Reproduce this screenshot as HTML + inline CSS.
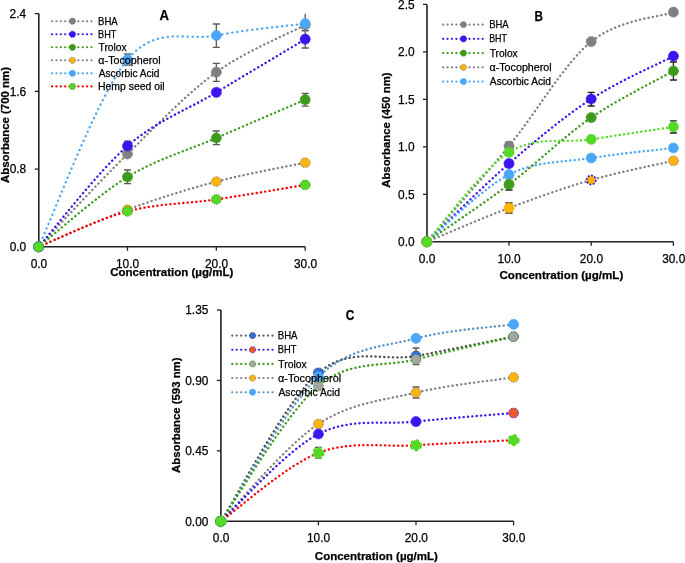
<!DOCTYPE html>
<html><head><meta charset="utf-8"><style>
html,body{margin:0;padding:0;background:#fff;width:685px;height:563px;overflow:hidden}
svg{display:block;font-family:"Liberation Sans",sans-serif;will-change:transform}
text{fill:#000;stroke:#000;stroke-width:0.25px}
.s{stroke-linecap:round;fill:none}
</style></head><body>
<svg width="685" height="563" viewBox="0 0 685 563">
<rect width="685" height="563" fill="#fff"/>
<path d="M38.80,13.60 V246.80 M38.80,246.80 H305.20" stroke="#222" stroke-width="1.6" fill="none"/>
<path d="M34.80,246.80 H38.80" stroke="#222" stroke-width="1.3"/>
<text x="26.18" y="251.00" font-size="11.90" text-anchor="end">0.0</text>
<path d="M34.80,169.07 H38.80" stroke="#222" stroke-width="1.3"/>
<text x="26.24" y="173.27" font-size="11.90" text-anchor="end">0.8</text>
<path d="M34.80,91.33 H38.80" stroke="#222" stroke-width="1.3"/>
<text x="26.24" y="95.53" font-size="11.90" text-anchor="end">1.6</text>
<path d="M34.80,13.60 H38.80" stroke="#222" stroke-width="1.3"/>
<text x="26.06" y="17.80" font-size="11.90" text-anchor="end">2.4</text>
<text x="38.90" y="268.00" font-size="11.90" text-anchor="middle">0.0</text>
<path d="M127.47,246.80 V250.80" stroke="#222" stroke-width="1.3"/>
<text x="127.57" y="268.00" font-size="11.90" text-anchor="middle">10.0</text>
<path d="M216.33,246.80 V250.80" stroke="#222" stroke-width="1.3"/>
<text x="216.58" y="268.00" font-size="11.90" text-anchor="middle">20.0</text>
<path d="M305.20,246.80 V250.80" stroke="#222" stroke-width="1.3"/>
<text x="305.51" y="268.00" font-size="11.90" text-anchor="middle">30.0</text>
<path class="s" d="M38.60,246.80 C53.41,231.33 97.84,183.10 127.47,154.00 C157.09,124.90 186.71,93.70 216.33,72.20 C245.96,50.70 290.39,32.87 305.20,25.00" stroke="#808080" stroke-width="2.35" stroke-dasharray="0.15 4.2"/>
<path class="s" d="M38.60,246.80 C53.41,230.00 97.84,171.73 127.47,146.00 C157.09,120.27 186.71,110.20 216.33,92.40 C245.96,74.60 290.39,48.07 305.20,39.20" stroke="#3c14ec" stroke-width="2.35" stroke-dasharray="0.15 4.2"/>
<path class="s" d="M38.60,246.80 C53.41,235.17 97.84,195.13 127.47,177.00 C157.09,158.87 186.71,150.88 216.33,138.00 C245.96,125.12 290.39,106.08 305.20,99.70" stroke="#3d9a1b" stroke-width="2.35" stroke-dasharray="0.15 4.2"/>
<path class="s" d="M38.60,246.80 C53.41,240.60 97.84,220.47 127.47,209.60 C157.09,198.73 186.71,189.42 216.33,181.60 C245.96,173.78 290.39,165.85 305.20,162.70" stroke="#808080" stroke-width="2.35" stroke-dasharray="0.15 4.2"/>
<path class="s" d="M38.60,246.80 C53.41,215.60 97.84,94.82 127.47,59.60 C157.09,24.38 186.71,41.50 216.33,35.50 C245.96,29.50 290.39,25.58 305.20,23.60" stroke="#4aa6f7" stroke-width="2.35" stroke-dasharray="0.15 4.85"/>
<path class="s" d="M38.60,246.80 C53.41,240.90 97.84,219.30 127.47,211.40 C157.09,203.50 186.71,203.82 216.33,199.40 C245.96,194.98 290.39,187.32 305.20,184.90" stroke="#ff0000" stroke-width="2.35" stroke-dasharray="0.15 4.2"/>
<path d="M216.33,63.40 V81.30 M212.83,81.30 H219.83 M212.83,63.40 H219.83" stroke="#595959" stroke-width="1.3" fill="none"/>
<path d="M127.47,141.20 V151.00 M123.97,151.00 H130.97 M123.97,141.20 H130.97" stroke="#595959" stroke-width="1.3" fill="none"/>
<path d="M305.20,30.60 V48.00 M301.70,48.00 H308.70 M301.70,30.60 H308.70" stroke="#595959" stroke-width="1.3" fill="none"/>
<path d="M127.47,170.00 V183.60 M123.97,183.60 H130.97 M123.97,170.00 H130.97" stroke="#595959" stroke-width="1.3" fill="none"/>
<path d="M216.33,131.00 V144.60 M212.83,144.60 H219.83 M212.83,131.00 H219.83" stroke="#595959" stroke-width="1.3" fill="none"/>
<path d="M305.20,93.30 V106.20 M301.70,106.20 H308.70 M301.70,93.30 H308.70" stroke="#595959" stroke-width="1.3" fill="none"/>
<path d="M127.47,54.00 V65.00 M123.97,65.00 H130.97 M123.97,54.00 H130.97" stroke="#595959" stroke-width="1.3" fill="none"/>
<path d="M216.33,24.00 V47.30 M212.83,47.30 H219.83 M212.83,24.00 H219.83" stroke="#595959" stroke-width="1.3" fill="none"/>
<path d="M305.20,13.80 V30.60 M301.70,30.60 H308.70" stroke="#595959" stroke-width="1.3" fill="none"/>
<circle cx="38.60" cy="246.80" r="5.10" fill="#808080" stroke="#808080" stroke-width="0.9" stroke-dasharray="1 0.9"/>
<circle cx="127.47" cy="154.00" r="5.10" fill="#808080" stroke="#808080" stroke-width="0.9" stroke-dasharray="1 0.9"/>
<circle cx="216.33" cy="72.20" r="5.10" fill="#808080" stroke="#808080" stroke-width="0.9" stroke-dasharray="1 0.9"/>
<circle cx="305.20" cy="25.00" r="5.10" fill="#808080" stroke="#808080" stroke-width="0.9" stroke-dasharray="1 0.9"/>
<circle cx="38.60" cy="246.80" r="5.10" fill="#3c14ec" stroke="#3c14ec" stroke-width="0.9" stroke-dasharray="1 0.9"/>
<circle cx="127.47" cy="146.00" r="5.10" fill="#3c14ec" stroke="#3c14ec" stroke-width="0.9" stroke-dasharray="1 0.9"/>
<circle cx="216.33" cy="92.40" r="5.10" fill="#3c14ec" stroke="#3c14ec" stroke-width="0.9" stroke-dasharray="1 0.9"/>
<circle cx="305.20" cy="39.20" r="5.10" fill="#3c14ec" stroke="#3c14ec" stroke-width="0.9" stroke-dasharray="1 0.9"/>
<circle cx="38.60" cy="246.80" r="5.10" fill="#3d9a1b" stroke="#3d9a1b" stroke-width="0.9" stroke-dasharray="1 0.9"/>
<circle cx="127.47" cy="177.00" r="5.10" fill="#3d9a1b" stroke="#3d9a1b" stroke-width="0.9" stroke-dasharray="1 0.9"/>
<circle cx="216.33" cy="138.00" r="5.10" fill="#3d9a1b" stroke="#3d9a1b" stroke-width="0.9" stroke-dasharray="1 0.9"/>
<circle cx="305.20" cy="99.70" r="5.10" fill="#3d9a1b" stroke="#3d9a1b" stroke-width="0.9" stroke-dasharray="1 0.9"/>
<circle cx="38.60" cy="246.80" r="4.90" fill="#ffb40a" stroke="#7f7f7f" stroke-width="1" stroke-dasharray="1.2 1"/>
<circle cx="127.47" cy="209.60" r="4.90" fill="#ffb40a" stroke="#7f7f7f" stroke-width="1" stroke-dasharray="1.2 1"/>
<circle cx="216.33" cy="181.60" r="4.90" fill="#ffb40a" stroke="#7f7f7f" stroke-width="1" stroke-dasharray="1.2 1"/>
<circle cx="305.20" cy="162.70" r="4.90" fill="#ffb40a" stroke="#7f7f7f" stroke-width="1" stroke-dasharray="1.2 1"/>
<circle cx="38.60" cy="246.80" r="5.10" fill="#4aa6f7" stroke="#4aa6f7" stroke-width="0.9" stroke-dasharray="1 0.9"/>
<circle cx="127.47" cy="59.60" r="5.10" fill="#4aa6f7" stroke="#4aa6f7" stroke-width="0.9" stroke-dasharray="1 0.9"/>
<circle cx="216.33" cy="35.50" r="5.10" fill="#4aa6f7" stroke="#4aa6f7" stroke-width="0.9" stroke-dasharray="1 0.9"/>
<circle cx="305.20" cy="23.60" r="5.10" fill="#4aa6f7" stroke="#4aa6f7" stroke-width="0.9" stroke-dasharray="1 0.9"/>
<circle cx="38.60" cy="246.80" r="4.90" fill="#55d826" stroke="#3a9a20" stroke-width="1" stroke-dasharray="1.2 1"/>
<circle cx="127.47" cy="211.40" r="4.90" fill="#55d826" stroke="#3a9a20" stroke-width="1" stroke-dasharray="1.2 1"/>
<circle cx="216.33" cy="199.40" r="4.90" fill="#55d826" stroke="#3a9a20" stroke-width="1" stroke-dasharray="1.2 1"/>
<circle cx="305.20" cy="184.90" r="4.90" fill="#55d826" stroke="#3a9a20" stroke-width="1" stroke-dasharray="1.2 1"/>
<text x="110.24" y="276.10" font-size="11.20" textLength="123.05" lengthAdjust="spacingAndGlyphs" font-weight="bold">Concentration (µg/mL)</text>
<text transform="translate(8.90,182.99) rotate(-90)" x="0" y="0" font-size="11.20" textLength="115.95" lengthAdjust="spacingAndGlyphs" font-weight="bold">Absorbance (700 nm)</text>
<text x="159.57" y="19.90" font-size="13.80" textLength="9.49" lengthAdjust="spacingAndGlyphs" font-weight="bold">A</text>
<path class="s" d="M52.00,21.20 H91.60" stroke="#808080" stroke-width="2.1" stroke-dasharray="0.15 4.228"/>
<circle cx="72.50" cy="21.20" r="3.1" fill="#808080" stroke="#808080" stroke-width="0.9" stroke-dasharray="1 0.8"/>
<text x="98.04" y="25.00" font-size="10.60" textLength="19.62" lengthAdjust="spacingAndGlyphs">BHA</text>
<path class="s" d="M52.00,34.24 H91.60" stroke="#3c14ec" stroke-width="2.1" stroke-dasharray="0.15 4.228"/>
<circle cx="72.50" cy="34.24" r="3.1" fill="#3c14ec" stroke="#3c14ec" stroke-width="0.9" stroke-dasharray="1 0.8"/>
<text x="98.07" y="38.04" font-size="10.60" textLength="18.36" lengthAdjust="spacingAndGlyphs">BHT</text>
<path class="s" d="M52.00,47.28 H91.60" stroke="#3d9a1b" stroke-width="2.1" stroke-dasharray="0.15 4.228"/>
<circle cx="72.50" cy="47.28" r="3.1" fill="#3d9a1b" stroke="#3d9a1b" stroke-width="0.9" stroke-dasharray="1 0.8"/>
<text x="98.54" y="51.08" font-size="10.60" textLength="28.17" lengthAdjust="spacingAndGlyphs">Trolox</text>
<path class="s" d="M52.00,60.32 H91.60" stroke="#808080" stroke-width="2.1" stroke-dasharray="0.15 4.228"/>
<circle cx="72.50" cy="60.32" r="3.1" fill="#ffb40a" stroke="#7f7f7f" stroke-width="0.9" stroke-dasharray="1 0.8"/>
<text x="98.37" y="64.12" font-size="10.60" textLength="62.26" lengthAdjust="spacingAndGlyphs">α-Tocopherol</text>
<path class="s" d="M52.00,73.36 H91.60" stroke="#4aa6f7" stroke-width="2.1" stroke-dasharray="0.15 4.228"/>
<circle cx="72.50" cy="73.36" r="3.1" fill="#4aa6f7" stroke="#4aa6f7" stroke-width="0.9" stroke-dasharray="1 0.8"/>
<text x="98.75" y="77.16" font-size="10.60" textLength="60.73" lengthAdjust="spacingAndGlyphs">Ascorbic Acid</text>
<path class="s" d="M52.00,86.40 H91.60" stroke="#ff0000" stroke-width="2.1" stroke-dasharray="0.15 4.228"/>
<circle cx="72.50" cy="86.40" r="3.1" fill="#55d826" stroke="#3a9a20" stroke-width="0.9" stroke-dasharray="1 0.8"/>
<text x="97.97" y="90.20" font-size="10.60" textLength="66.63" lengthAdjust="spacingAndGlyphs">Hemp seed oil</text>
<path d="M427.00,4.40 V241.80 M427.00,241.80 H673.40" stroke="#222" stroke-width="1.6" fill="none"/>
<path d="M423.00,241.80 H427.00" stroke="#222" stroke-width="1.3"/>
<text x="414.58" y="246.00" font-size="11.90" text-anchor="end">0.0</text>
<path d="M423.00,194.32 H427.00" stroke="#222" stroke-width="1.3"/>
<text x="414.58" y="198.52" font-size="11.90" text-anchor="end">0.5</text>
<path d="M423.00,146.84 H427.00" stroke="#222" stroke-width="1.3"/>
<text x="414.58" y="151.04" font-size="11.90" text-anchor="end">1.0</text>
<path d="M423.00,99.36 H427.00" stroke="#222" stroke-width="1.3"/>
<text x="414.58" y="103.56" font-size="11.90" text-anchor="end">1.5</text>
<path d="M423.00,51.88 H427.00" stroke="#222" stroke-width="1.3"/>
<text x="414.58" y="56.08" font-size="11.90" text-anchor="end">2.0</text>
<path d="M423.00,4.40 H427.00" stroke="#222" stroke-width="1.3"/>
<text x="414.58" y="8.60" font-size="11.90" text-anchor="end">2.5</text>
<text x="427.10" y="262.60" font-size="11.90" text-anchor="middle">0.0</text>
<path d="M509.00,241.80 V245.80" stroke="#222" stroke-width="1.3"/>
<text x="509.10" y="262.60" font-size="11.90" text-anchor="middle">10.0</text>
<path d="M591.20,241.80 V245.80" stroke="#222" stroke-width="1.3"/>
<text x="591.45" y="262.60" font-size="11.90" text-anchor="middle">20.0</text>
<path d="M673.40,241.80 V245.80" stroke="#222" stroke-width="1.3"/>
<text x="673.71" y="262.60" font-size="11.90" text-anchor="middle">30.0</text>
<path class="s" d="M426.80,241.80 C440.50,225.83 481.60,179.37 509.00,146.00 C536.40,112.63 563.80,63.90 591.20,41.60 C618.60,19.30 659.70,17.10 673.40,12.20" stroke="#808080" stroke-width="2.35" stroke-dasharray="0.15 4.2"/>
<path class="s" d="M426.80,241.80 C440.50,228.77 481.60,187.40 509.00,163.60 C536.40,139.80 563.80,116.90 591.20,99.00 C618.60,81.10 659.70,63.33 673.40,56.20" stroke="#3c14ec" stroke-width="2.35" stroke-dasharray="0.15 4.2"/>
<path class="s" d="M426.80,241.80 C440.50,230.60 481.60,188.57 509.00,174.60 C536.40,160.63 563.80,162.43 591.20,158.00 C618.60,153.57 659.70,149.67 673.40,148.00" stroke="#4aa6f7" stroke-width="2.35" stroke-dasharray="0.15 4.2"/>
<path class="s" d="M426.80,241.80 C440.50,232.23 481.60,205.10 509.00,184.40 C536.40,163.70 563.80,136.50 591.20,117.60 C618.60,98.70 659.70,78.77 673.40,71.00" stroke="#3d9a1b" stroke-width="2.35" stroke-dasharray="0.15 4.2"/>
<path class="s" d="M426.80,241.80 C440.50,236.17 481.60,218.30 509.00,208.00 C536.40,197.70 563.80,187.87 591.20,180.00 C618.60,172.13 659.70,164.00 673.40,160.80" stroke="#808080" stroke-width="2.35" stroke-dasharray="0.15 4.2"/>
<path class="s" d="M426.80,241.80 C440.50,226.90 481.60,169.47 509.00,152.40 C536.40,135.33 563.80,143.65 591.20,139.40 C618.60,135.15 659.70,128.98 673.40,126.90" stroke="#55d826" stroke-width="2.35" stroke-dasharray="0.15 4.2"/>
<path d="M509.00,142.20 V150.00 M505.50,150.00 H512.50 M505.50,142.20 H512.50" stroke="#1e1e1e" stroke-width="1.3" fill="none"/>
<path d="M591.20,92.40 V106.00 M587.70,106.00 H594.70 M587.70,92.40 H594.70" stroke="#1e1e1e" stroke-width="1.3" fill="none"/>
<path d="M509.00,178.00 V190.00 M505.50,190.00 H512.50 M505.50,178.00 H512.50" stroke="#1e1e1e" stroke-width="1.3" fill="none"/>
<path d="M673.40,62.00 V80.00 M669.90,80.00 H676.90 M669.90,62.00 H676.90" stroke="#1e1e1e" stroke-width="1.3" fill="none"/>
<path d="M509.00,203.00 V213.00 M505.50,213.00 H512.50 M505.50,203.00 H512.50" stroke="#1e1e1e" stroke-width="1.3" fill="none"/>
<path d="M673.40,120.80 V133.00 M669.90,133.00 H676.90 M669.90,120.80 H676.90" stroke="#1e1e1e" stroke-width="1.3" fill="none"/>
<circle cx="426.80" cy="241.80" r="5.10" fill="#808080" stroke="#808080" stroke-width="0.9" stroke-dasharray="1 0.9"/>
<circle cx="509.00" cy="146.00" r="5.10" fill="#808080" stroke="#808080" stroke-width="0.9" stroke-dasharray="1 0.9"/>
<circle cx="591.20" cy="41.60" r="5.10" fill="#808080" stroke="#808080" stroke-width="0.9" stroke-dasharray="1 0.9"/>
<circle cx="673.40" cy="12.20" r="5.10" fill="#808080" stroke="#808080" stroke-width="0.9" stroke-dasharray="1 0.9"/>
<circle cx="426.80" cy="241.80" r="5.10" fill="#3c14ec" stroke="#3c14ec" stroke-width="0.9" stroke-dasharray="1 0.9"/>
<circle cx="509.00" cy="163.60" r="5.10" fill="#3c14ec" stroke="#3c14ec" stroke-width="0.9" stroke-dasharray="1 0.9"/>
<circle cx="591.20" cy="99.00" r="5.10" fill="#3c14ec" stroke="#3c14ec" stroke-width="0.9" stroke-dasharray="1 0.9"/>
<circle cx="673.40" cy="56.20" r="5.10" fill="#3c14ec" stroke="#3c14ec" stroke-width="0.9" stroke-dasharray="1 0.9"/>
<circle cx="426.80" cy="241.80" r="5.10" fill="#4aa6f7" stroke="#4aa6f7" stroke-width="0.9" stroke-dasharray="1 0.9"/>
<circle cx="509.00" cy="174.60" r="5.10" fill="#4aa6f7" stroke="#4aa6f7" stroke-width="0.9" stroke-dasharray="1 0.9"/>
<circle cx="591.20" cy="158.00" r="5.10" fill="#4aa6f7" stroke="#4aa6f7" stroke-width="0.9" stroke-dasharray="1 0.9"/>
<circle cx="673.40" cy="148.00" r="5.10" fill="#4aa6f7" stroke="#4aa6f7" stroke-width="0.9" stroke-dasharray="1 0.9"/>
<circle cx="426.80" cy="241.80" r="5.10" fill="#3d9a1b" stroke="#3d9a1b" stroke-width="0.9" stroke-dasharray="1 0.9"/>
<circle cx="509.00" cy="184.40" r="5.10" fill="#3d9a1b" stroke="#3d9a1b" stroke-width="0.9" stroke-dasharray="1 0.9"/>
<circle cx="591.20" cy="117.60" r="5.10" fill="#3d9a1b" stroke="#3d9a1b" stroke-width="0.9" stroke-dasharray="1 0.9"/>
<circle cx="673.40" cy="71.00" r="5.10" fill="#3d9a1b" stroke="#3d9a1b" stroke-width="0.9" stroke-dasharray="1 0.9"/>
<circle cx="426.80" cy="241.80" r="5.10" fill="#ffb40a" stroke="#ffb40a" stroke-width="0.9" stroke-dasharray="1 0.9"/>
<circle cx="509.00" cy="208.00" r="5.10" fill="#ffb40a" stroke="#ffb40a" stroke-width="0.9" stroke-dasharray="1 0.9"/>
<circle cx="591.20" cy="180.00" r="4.60" fill="#ffb40a" stroke="#3c14ec" stroke-width="1.7" stroke-dasharray="1.9 1.6"/>
<circle cx="673.40" cy="160.80" r="4.90" fill="#ffb40a" stroke="#7f7f7f" stroke-width="1" stroke-dasharray="1.2 1"/>
<circle cx="426.80" cy="241.80" r="5.10" fill="#55d826" stroke="#55d826" stroke-width="0.9" stroke-dasharray="1 0.9"/>
<circle cx="509.00" cy="152.40" r="5.10" fill="#55d826" stroke="#55d826" stroke-width="0.9" stroke-dasharray="1 0.9"/>
<circle cx="591.20" cy="139.40" r="5.10" fill="#55d826" stroke="#55d826" stroke-width="0.9" stroke-dasharray="1 0.9"/>
<circle cx="673.40" cy="126.90" r="5.10" fill="#55d826" stroke="#55d826" stroke-width="0.9" stroke-dasharray="1 0.9"/>
<text x="499.44" y="279.00" font-size="11.20" textLength="123.86" lengthAdjust="spacingAndGlyphs" font-weight="bold">Concentration (µg/mL)</text>
<text transform="translate(389.60,187.78) rotate(-90)" x="0" y="0" font-size="11.20" textLength="115.34" lengthAdjust="spacingAndGlyphs" font-weight="bold">Absorbance (450 nm)</text>
<text x="534.44" y="20.60" font-size="13.80" textLength="8.41" lengthAdjust="spacingAndGlyphs" font-weight="bold">B</text>
<path class="s" d="M443.10,24.60 H482.80" stroke="#808080" stroke-width="2.1" stroke-dasharray="0.15 4.239"/>
<circle cx="463.50" cy="24.60" r="3.1" fill="#808080" stroke="#808080" stroke-width="0.9" stroke-dasharray="1 0.8"/>
<text x="489.14" y="28.20" font-size="10.60" textLength="19.52" lengthAdjust="spacingAndGlyphs">BHA</text>
<path class="s" d="M443.10,38.85 H482.80" stroke="#3c14ec" stroke-width="2.1" stroke-dasharray="0.15 4.239"/>
<circle cx="463.50" cy="38.85" r="3.1" fill="#3c14ec" stroke="#3c14ec" stroke-width="0.9" stroke-dasharray="1 0.8"/>
<text x="489.19" y="42.45" font-size="10.60" textLength="17.73" lengthAdjust="spacingAndGlyphs">BHT</text>
<path class="s" d="M443.10,53.10 H482.80" stroke="#3d9a1b" stroke-width="2.1" stroke-dasharray="0.15 4.239"/>
<circle cx="463.50" cy="53.10" r="3.1" fill="#3d9a1b" stroke="#3d9a1b" stroke-width="0.9" stroke-dasharray="1 0.8"/>
<text x="489.64" y="56.70" font-size="10.60" textLength="28.07" lengthAdjust="spacingAndGlyphs">Trolox</text>
<path class="s" d="M443.10,67.35 H482.80" stroke="#808080" stroke-width="2.1" stroke-dasharray="0.15 4.239"/>
<circle cx="463.50" cy="67.35" r="3.1" fill="#ffb40a" stroke="#7f7f7f" stroke-width="0.9" stroke-dasharray="1 0.8"/>
<text x="489.47" y="70.95" font-size="10.60" textLength="62.26" lengthAdjust="spacingAndGlyphs">α-Tocopherol</text>
<path class="s" d="M443.10,81.60 H482.80" stroke="#4aa6f7" stroke-width="2.1" stroke-dasharray="0.15 4.239"/>
<circle cx="463.50" cy="81.60" r="3.1" fill="#4aa6f7" stroke="#4aa6f7" stroke-width="0.9" stroke-dasharray="1 0.8"/>
<text x="489.85" y="85.20" font-size="10.60" textLength="61.14" lengthAdjust="spacingAndGlyphs">Ascorbic Acid</text>
<path d="M220.90,310.00 V521.30 M220.90,521.30 H513.60" stroke="#222" stroke-width="1.6" fill="none"/>
<path d="M216.90,521.30 H220.90" stroke="#222" stroke-width="1.3"/>
<text x="208.39" y="525.50" font-size="11.90" text-anchor="end">0.00</text>
<path d="M216.90,450.87 H220.90" stroke="#222" stroke-width="1.3"/>
<text x="208.39" y="455.07" font-size="11.90" text-anchor="end">0.45</text>
<path d="M216.90,380.43 H220.90" stroke="#222" stroke-width="1.3"/>
<text x="208.39" y="384.63" font-size="11.90" text-anchor="end">0.90</text>
<path d="M216.90,310.00 H220.90" stroke="#222" stroke-width="1.3"/>
<text x="208.39" y="314.20" font-size="11.90" text-anchor="end">1.35</text>
<text x="221.10" y="542.30" font-size="11.90" text-anchor="middle">0.0</text>
<path d="M318.40,521.30 V525.30" stroke="#222" stroke-width="1.3"/>
<text x="318.50" y="542.30" font-size="11.90" text-anchor="middle">10.0</text>
<path d="M416.00,521.30 V525.30" stroke="#222" stroke-width="1.3"/>
<text x="416.25" y="542.30" font-size="11.90" text-anchor="middle">20.0</text>
<path d="M513.60,521.30 V525.30" stroke="#222" stroke-width="1.3"/>
<text x="513.91" y="542.30" font-size="11.90" text-anchor="middle">30.0</text>
<path class="s" d="M220.80,521.30 C237.07,496.55 285.87,400.35 318.40,372.80 C350.93,345.25 383.47,362.03 416.00,356.00 C448.53,349.97 497.33,339.83 513.60,336.60" stroke="#4a4a4a" stroke-width="2.35" stroke-dasharray="0.15 4.2"/>
<path class="s" d="M220.80,521.30 C237.07,497.18 285.87,407.08 318.40,376.60 C350.93,346.12 383.47,347.10 416.00,338.40 C448.53,329.70 497.33,326.73 513.60,324.40" stroke="#5a91c5" stroke-width="2.35" stroke-dasharray="0.15 4.2"/>
<path class="s" d="M220.80,521.30 C237.07,498.75 285.87,412.98 318.40,386.00 C350.93,359.02 383.47,367.63 416.00,359.40 C448.53,351.17 497.33,340.40 513.60,336.60" stroke="#3d9a1b" stroke-width="2.35" stroke-dasharray="0.15 4.2"/>
<path class="s" d="M220.80,521.30 C237.07,505.08 285.87,445.45 318.40,424.00 C350.93,402.55 383.47,400.37 416.00,392.60 C448.53,384.83 497.33,379.93 513.60,377.40" stroke="#808080" stroke-width="2.35" stroke-dasharray="0.15 4.2"/>
<path class="s" d="M220.80,521.30 C237.07,506.75 285.87,450.62 318.40,434.00 C350.93,417.38 383.47,425.10 416.00,421.60 C448.53,418.10 497.33,414.43 513.60,413.00" stroke="#3c14ec" stroke-width="2.35" stroke-dasharray="0.15 4.2"/>
<path class="s" d="M220.80,521.30 C237.07,509.90 285.87,465.57 318.40,452.90 C350.93,440.23 383.47,447.42 416.00,445.30 C448.53,443.18 497.33,441.05 513.60,440.20" stroke="#ff0000" stroke-width="2.35" stroke-dasharray="0.15 4.2"/>
<path d="M416.00,348.00 V364.50 M412.50,364.50 H419.50 M412.50,348.00 H419.50" stroke="#595959" stroke-width="1.3" fill="none"/>
<path d="M416.00,387.00 V398.00 M412.50,398.00 H419.50 M412.50,387.00 H419.50" stroke="#595959" stroke-width="1.3" fill="none"/>
<path d="M318.40,447.30 V458.20 M314.90,458.20 H321.90 M314.90,447.30 H321.90" stroke="#595959" stroke-width="1.3" fill="none"/>
<circle cx="220.80" cy="521.30" r="4.90" fill="#2f6fe8" stroke="#333" stroke-width="1" stroke-dasharray="1.2 1"/>
<circle cx="318.40" cy="372.80" r="4.90" fill="#2f6fe8" stroke="#333" stroke-width="1" stroke-dasharray="1.2 1"/>
<circle cx="416.00" cy="356.00" r="4.90" fill="#2f6fe8" stroke="#333" stroke-width="1" stroke-dasharray="1.2 1"/>
<circle cx="513.60" cy="336.60" r="4.90" fill="#2f6fe8" stroke="#333" stroke-width="1" stroke-dasharray="1.2 1"/>
<circle cx="220.80" cy="521.30" r="5.10" fill="#4aa6f7" stroke="#4aa6f7" stroke-width="0.9" stroke-dasharray="1 0.9"/>
<circle cx="318.40" cy="376.60" r="5.10" fill="#4aa6f7" stroke="#4aa6f7" stroke-width="0.9" stroke-dasharray="1 0.9"/>
<circle cx="416.00" cy="338.40" r="5.10" fill="#4aa6f7" stroke="#4aa6f7" stroke-width="0.9" stroke-dasharray="1 0.9"/>
<circle cx="513.60" cy="324.40" r="5.10" fill="#4aa6f7" stroke="#4aa6f7" stroke-width="0.9" stroke-dasharray="1 0.9"/>
<circle cx="220.80" cy="521.30" r="4.90" fill="#a5a5a5" stroke="#3d9a1b" stroke-width="1" stroke-dasharray="1.2 1"/>
<circle cx="318.40" cy="386.00" r="4.90" fill="#a5a5a5" stroke="#3d9a1b" stroke-width="1" stroke-dasharray="1.2 1"/>
<circle cx="416.00" cy="359.40" r="4.90" fill="#a5a5a5" stroke="#3d9a1b" stroke-width="1" stroke-dasharray="1.2 1"/>
<circle cx="513.60" cy="336.60" r="4.90" fill="#a5a5a5" stroke="#3d9a1b" stroke-width="1" stroke-dasharray="1.2 1"/>
<circle cx="220.80" cy="521.30" r="4.90" fill="#ffb40a" stroke="#7f7f7f" stroke-width="1" stroke-dasharray="1.2 1"/>
<circle cx="318.40" cy="424.00" r="4.90" fill="#ffb40a" stroke="#7f7f7f" stroke-width="1" stroke-dasharray="1.2 1"/>
<circle cx="416.00" cy="392.60" r="4.90" fill="#ffb40a" stroke="#7f7f7f" stroke-width="1" stroke-dasharray="1.2 1"/>
<circle cx="513.60" cy="377.40" r="4.90" fill="#ffb40a" stroke="#7f7f7f" stroke-width="1" stroke-dasharray="1.2 1"/>
<circle cx="220.80" cy="521.30" r="5.10" fill="#3c14ec" stroke="#3c14ec" stroke-width="0.9" stroke-dasharray="1 0.9"/>
<circle cx="318.40" cy="434.00" r="5.10" fill="#3c14ec" stroke="#3c14ec" stroke-width="0.9" stroke-dasharray="1 0.9"/>
<circle cx="416.00" cy="421.60" r="5.10" fill="#3c14ec" stroke="#3c14ec" stroke-width="0.9" stroke-dasharray="1 0.9"/>
<circle cx="513.60" cy="413.00" r="4.90" fill="#f05a28" stroke="#3c14ec" stroke-width="1" stroke-dasharray="1.2 1"/>
<circle cx="220.80" cy="521.30" r="5.0" fill="#55d826" stroke="#55d826" stroke-width="2.2" stroke-dasharray="3.1 2.6"/>
<circle cx="318.40" cy="452.90" r="5.0" fill="#55d826" stroke="#55d826" stroke-width="2.2" stroke-dasharray="3.1 2.6"/>
<circle cx="416.00" cy="445.30" r="5.0" fill="#55d826" stroke="#55d826" stroke-width="2.2" stroke-dasharray="3.1 2.6"/>
<circle cx="513.60" cy="440.20" r="5.0" fill="#55d826" stroke="#55d826" stroke-width="2.2" stroke-dasharray="3.1 2.6"/>
<text x="314.84" y="560.00" font-size="11.20" textLength="123.05" lengthAdjust="spacingAndGlyphs" font-weight="bold">Concentration (µg/mL)</text>
<text transform="translate(180.40,472.98) rotate(-90)" x="0" y="0" font-size="11.20" textLength="115.45" lengthAdjust="spacingAndGlyphs" font-weight="bold">Absorbance (593 nm)</text>
<text x="345.82" y="319.80" font-size="13.80" textLength="8.60" lengthAdjust="spacingAndGlyphs" font-weight="bold">C</text>
<path class="s" d="M232.20,335.60 H272.60" stroke="#595959" stroke-width="2.1" stroke-dasharray="0.15 4.317"/>
<circle cx="252.60" cy="335.60" r="3.1" fill="#2f6fe8" stroke="#3a3a3a" stroke-width="0.9" stroke-dasharray="1 0.8"/>
<text x="277.73" y="339.20" font-size="10.60" textLength="19.83" lengthAdjust="spacingAndGlyphs">BHA</text>
<path class="s" d="M232.20,349.75 H272.60" stroke="#3c14ec" stroke-width="2.1" stroke-dasharray="0.15 4.317"/>
<circle cx="252.60" cy="349.75" r="3.1" fill="#f05a28" stroke="#3c14ec" stroke-width="0.9" stroke-dasharray="1 0.8"/>
<text x="277.76" y="353.35" font-size="10.60" textLength="18.58" lengthAdjust="spacingAndGlyphs">BHT</text>
<path class="s" d="M232.20,363.90 H272.60" stroke="#3d9a1b" stroke-width="2.1" stroke-dasharray="0.15 4.317"/>
<circle cx="252.60" cy="363.90" r="3.1" fill="#a5a5a5" stroke="#3d9a1b" stroke-width="0.9" stroke-dasharray="1 0.8"/>
<text x="278.24" y="367.50" font-size="10.60" textLength="28.48" lengthAdjust="spacingAndGlyphs">Trolox</text>
<path class="s" d="M232.20,378.05 H272.60" stroke="#808080" stroke-width="2.1" stroke-dasharray="0.15 4.317"/>
<circle cx="252.60" cy="378.05" r="3.1" fill="#ffb40a" stroke="#7f7f7f" stroke-width="0.9" stroke-dasharray="1 0.8"/>
<text x="278.06" y="381.65" font-size="10.60" textLength="63.18" lengthAdjust="spacingAndGlyphs">α-Tocopherol</text>
<path class="s" d="M232.20,392.20 H272.60" stroke="#5a91c5" stroke-width="2.1" stroke-dasharray="0.15 4.317"/>
<circle cx="252.60" cy="392.20" r="3.1" fill="#4aa6f7" stroke="#4aa6f7" stroke-width="0.9" stroke-dasharray="1 0.8"/>
<text x="278.45" y="395.80" font-size="10.60" textLength="61.44" lengthAdjust="spacingAndGlyphs">Ascorbic Acid</text>
</svg>
</body></html>
